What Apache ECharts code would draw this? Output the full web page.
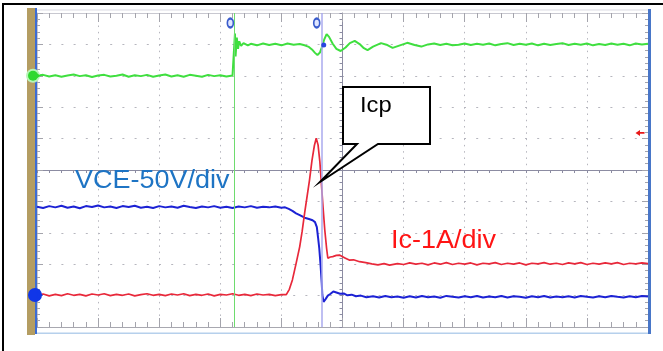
<!DOCTYPE html>
<html><head><meta charset="utf-8">
<script src="https://cdn.jsdelivr.net/npm/echarts@6/dist/echarts.min.js"></script>
<style>html,body{margin:0;padding:0;background:#fff}#c{width:663px;height:351px}</style>
</head><body><div id="c"></div>
<script>
// Time and amplitude are in scope divisions (screen -5..5 both ways)
const xTicks = [-5,-4,-3,-2,-1,0,1,2,3,4,5];
const yTicks = [-5,-4,-3,-2,-1,0,1,2,3,4,5];

// Green trace (gate signal)
const greenTrace = [
[-5.0,3.00],[-4.9,3.03],[-4.8,2.98],[-4.7,3.02],[-4.6,2.97],[-4.5,3.01],[-4.4,3.04],[-4.3,2.99],[-4.2,3.02],[-4.1,2.96],[-4.0,3.01],[-3.9,3.03],[-3.8,2.98],[-3.7,3.00],[-3.6,3.04],[-3.5,2.97],[-3.4,3.02],[-3.3,2.99],[-3.2,3.03],[-3.1,2.97],[-3.0,3.01],[-2.9,3.04],[-2.8,2.98],[-2.7,3.02],[-2.6,2.97],[-2.5,3.03],[-2.4,3.00],[-2.3,2.97],[-2.2,3.03],[-2.1,2.99],[-2.0,3.02],[-1.9,2.98],[-1.8,3.01],[-1.77,3.00],
[-1.76,4.35],[-1.75,3.62],[-1.73,4.22],[-1.71,3.86],[-1.69,4.10],[-1.66,3.95],[-1.62,4.04],[-1.55,3.97],[-1.5,4.02],[-1.4,3.97],[-1.3,4.03],[-1.2,3.98],[-1.1,4.02],[-1.0,3.97],[-0.9,4.03],[-0.8,3.99],[-0.7,4.01],[-0.62,3.97],[-0.55,3.92],[-0.5,3.84],[-0.45,3.73],[-0.41,3.66],[-0.37,3.74],[-0.34,3.90],[-0.30,4.15],[-0.26,4.33],[-0.22,4.24],[-0.16,4.02],[-0.10,3.86],[-0.03,3.79],[0.05,3.90],[0.12,4.04],[0.20,4.11],[0.28,4.01],[0.35,3.88],[0.41,3.82],[0.50,3.93],[0.63,4.04],[0.72,3.99],[0.82,3.89],[0.94,3.97],[1.06,4.05],[1.18,3.98],[1.29,3.93],[1.4,4.00],[1.5,4.03],[1.6,3.98],[1.7,4.02],[1.8,3.97],[1.9,3.99],[2.0,4.03],[2.1,3.98],[2.2,4.02],[2.3,3.99],[2.4,4.03],[2.5,3.97],[2.6,4.01],[2.7,4.04],[2.8,3.98],[2.9,4.02],[3.0,3.99],[3.1,4.03],[3.2,3.97],[3.3,4.02],[3.4,3.98],[3.5,4.01],[3.6,4.04],[3.7,3.98],[3.8,4.02],[3.9,3.99],[4.0,4.03],[4.1,3.97],[4.2,4.01],[4.3,3.98],[4.4,4.03],[4.5,3.99],[4.6,4.02],[4.7,3.97],[4.8,4.03],[4.9,4.00],[5.0,4.02]
];

// Blue trace (VCE, 50 V/div)
const blueTrace = [
[-5.0,-1.17],[-4.9,-1.21],[-4.8,-1.15],[-4.7,-1.19],[-4.6,-1.14],[-4.5,-1.20],[-4.4,-1.16],[-4.3,-1.22],[-4.2,-1.15],[-4.1,-1.18],[-4.0,-1.13],[-3.9,-1.19],[-3.8,-1.16],[-3.7,-1.21],[-3.6,-1.15],[-3.5,-1.18],[-3.4,-1.14],[-3.3,-1.20],[-3.2,-1.17],[-3.1,-1.21],[-3.0,-1.15],[-2.9,-1.19],[-2.8,-1.16],[-2.7,-1.20],[-2.6,-1.14],[-2.5,-1.18],[-2.4,-1.21],[-2.3,-1.16],[-2.2,-1.19],[-2.1,-1.15],[-2.0,-1.20],[-1.9,-1.17],[-1.8,-1.21],[-1.7,-1.16],[-1.6,-1.19],[-1.5,-1.15],[-1.4,-1.20],[-1.3,-1.17],[-1.2,-1.19],[-1.1,-1.16],[-1.0,-1.20],[-0.94,-1.19],[-0.88,-1.24],[-0.82,-1.30],[-0.76,-1.38],[-0.70,-1.44],[-0.62,-1.52],[-0.55,-1.56],[-0.49,-1.60],[-0.45,-1.66],[-0.42,-1.82],[-0.40,-2.15],[-0.38,-2.50],[-0.36,-3.00],[-0.34,-3.60],[-0.33,-3.98],[-0.31,-4.20],[-0.28,-4.12],[-0.24,-4.00],[-0.20,-3.95],[-0.15,-3.87],[-0.10,-3.90],[-0.04,-3.94],[0.02,-3.93],[0.08,-3.99],[0.15,-3.97],[0.22,-4.02],[0.30,-4.00],[0.39,-4.05],[0.5,-4.02],[0.6,-4.06],[0.7,-4.01],[0.8,-4.05],[0.9,-4.03],[1.0,-4.07],[1.1,-4.02],[1.2,-4.06],[1.3,-4.01],[1.4,-4.05],[1.5,-4.03],[1.6,-4.07],[1.7,-4.01],[1.8,-4.04],[1.9,-4.06],[2.0,-4.02],[2.1,-4.05],[2.2,-4.01],[2.3,-4.06],[2.4,-4.03],[2.5,-4.05],[2.6,-4.01],[2.7,-4.06],[2.8,-4.02],[2.9,-4.04],[3.0,-4.07],[3.1,-4.02],[3.2,-4.05],[3.3,-4.01],[3.4,-4.06],[3.5,-4.03],[3.6,-4.05],[3.7,-4.02],[3.8,-4.06],[3.9,-4.01],[4.0,-4.04],[4.1,-4.06],[4.2,-4.02],[4.3,-4.05],[4.4,-4.01],[4.5,-4.04],[4.6,-4.06],[4.7,-4.02],[4.8,-4.05],[4.9,-4.01],[5.0,-4.03]
];

// Red trace (Ic, 1 A/div)
const redTrace = [
[-5.0,-3.98],[-4.9,-3.95],[-4.8,-4.01],[-4.7,-3.96],[-4.6,-4.00],[-4.5,-3.94],[-4.4,-3.99],[-4.3,-3.96],[-4.2,-4.01],[-4.1,-3.95],[-4.0,-3.98],[-3.9,-3.94],[-3.8,-4.00],[-3.7,-3.96],[-3.6,-3.99],[-3.5,-3.95],[-3.4,-4.01],[-3.3,-3.97],[-3.2,-3.94],[-3.1,-3.99],[-3.0,-3.96],[-2.9,-4.00],[-2.8,-3.95],[-2.7,-3.98],[-2.6,-3.94],[-2.5,-4.00],[-2.4,-3.96],[-2.3,-3.99],[-2.2,-3.95],[-2.1,-4.01],[-2.0,-3.96],[-1.9,-3.98],[-1.8,-3.94],[-1.7,-3.99],[-1.6,-3.96],[-1.5,-4.00],[-1.4,-3.95],[-1.3,-3.98],[-1.2,-3.96],[-1.1,-4.00],[-1.0,-3.97],[-0.92,-3.97],[-0.87,-3.80],[-0.82,-3.50],[-0.76,-2.98],[-0.70,-2.44],[-0.66,-1.95],[-0.62,-1.37],[-0.58,-0.85],[-0.54,-0.32],[-0.50,0.30],[-0.46,0.78],[-0.43,1.01],[-0.40,0.80],[-0.37,0.25],[-0.35,-0.32],[-0.32,-1.15],[-0.29,-1.91],[-0.26,-2.50],[-0.24,-2.81],[-0.20,-2.77],[-0.16,-2.76],[-0.10,-2.72],[-0.05,-2.71],[-0.02,-2.74],[0.04,-2.80],[0.11,-2.87],[0.18,-2.86],[0.28,-2.92],[0.38,-2.95],[0.48,-2.99],[0.58,-3.02],[0.68,-2.98],[0.77,-3.03],[0.9,-2.98],[1.0,-3.01],[1.1,-2.96],[1.2,-3.00],[1.3,-2.97],[1.4,-3.02],[1.5,-2.96],[1.6,-3.00],[1.7,-2.95],[1.8,-3.01],[1.9,-2.97],[2.0,-3.00],[2.1,-2.96],[2.2,-3.02],[2.3,-2.97],[2.4,-2.99],[2.5,-2.95],[2.6,-3.01],[2.7,-2.97],[2.8,-3.00],[2.9,-2.96],[3.0,-3.02],[3.1,-2.97],[3.2,-2.99],[3.3,-2.95],[3.4,-3.00],[3.5,-2.97],[3.6,-3.01],[3.7,-2.96],[3.8,-2.99],[3.9,-2.95],[4.0,-3.01],[4.1,-2.97],[4.2,-3.00],[4.3,-2.96],[4.4,-2.99],[4.5,-2.95],[4.6,-3.01],[4.7,-2.97],[4.8,-2.99],[4.9,-2.96],[5.0,-2.98]
];

const cursorX = [-1.77, -0.34];        // vertical cursors (green, blue)
const greenLevel = 3.0;                  // channel ground markers
const blueLevel = -3.98;
const triggerLevel = 1.18;
const cursorDotY = 3.98;
const labelTexts = ['VCE-50V/div', 'Ic-1A/div', 'Icp'];

const FONT = '"Liberation Sans", Arial, sans-serif';
const GRID = {left:37, right:15, top:13, bottom:24};

function edgeAxis(pos, isX, lineColor) {
  return {gridIndex:1, type:'value', min:-5, max:5, interval:1, position:pos,
    axisLine:{show:true, onZero:false, lineStyle:{color:lineColor, width:1}},
    axisTick:{show:true, inside:true, length:isX?9:6, lineStyle:{color:'#a4a4ac'}},
    minorTick:{show:true, splitNumber:5, length:isX?5:3, lineStyle:{color:'#a4a4ac'}},
    axisLabel:{show:false}, splitLine:{show:false}};
}

const chart = echarts.init(document.getElementById('c'), null, {renderer:'canvas'});
const option = {
  animation:false,
  backgroundColor:'#ffffff',
  grid:[Object.assign({}, GRID), Object.assign({}, GRID)],
  xAxis:[
    {gridIndex:0, type:'value', min:xTicks[0], max:xTicks[xTicks.length-1], interval:1,
     axisLine:{show:true, onZero:true, lineStyle:{color:'#8c8ca2', width:1}},
     axisTick:{show:true, length:3, lineStyle:{color:'#8c8ca2'}},
     minorTick:{show:true, splitNumber:5, length:3, lineStyle:{color:'#8c8ca2'}},
     axisLabel:{show:false},
     splitLine:{show:true, lineStyle:{color:'#b6b6be', width:1, type:[1.5,4.78]}}},
    edgeAxis('top', true, '#c8c8d0'),
    edgeAxis('bottom', true, '#a8a8b0')
  ],
  yAxis:[
    {gridIndex:0, type:'value', min:yTicks[0], max:yTicks[yTicks.length-1], interval:1,
     axisLine:{show:true, onZero:true, lineStyle:{color:'#8c8ca2', width:1}},
     axisTick:{show:true, length:3, lineStyle:{color:'#8c8ca2'}},
     minorTick:{show:true, splitNumber:5, length:3, lineStyle:{color:'#8c8ca2'}},
     axisLabel:{show:false},
     splitLine:{show:true, lineStyle:{color:'#b6b6be', width:1, type:[2,10.2]}}},
    edgeAxis('left', false, '#c8c8d0'),
    edgeAxis('right', false, '#c8c8d0')
  ],
  series:[
    {type:'line', name:'gate', data:greenTrace, showSymbol:false, symbol:'none',
     lineStyle:{color:'#3fdf3f', width:2}, z:3,
     markLine:{silent:true, symbol:['none','none'], label:{show:false}, animation:false,
       data:[{xAxis:cursorX[0], lineStyle:{color:'#6edc6e', width:1, type:'solid'}},
             {xAxis:cursorX[1], lineStyle:{color:'#aaaaee', width:1.5, type:'solid'}}]},
     markPoint:{silent:true, label:{show:false}, animation:false,
       data:[
         {coord:[xTicks[0], greenLevel], symbol:'circle', symbolSize:14, symbolOffset:[-4,0], itemStyle:{color:'#b8f5b8'}},
         {coord:[xTicks[0], greenLevel], symbol:'circle', symbolSize:10, symbolOffset:[-4,0], itemStyle:{color:'#2fd82f'}},
         {coord:[xTicks[0], greenLevel], symbol:'arrow', symbolSize:[6,7], symbolRotate:-90, symbolOffset:[4,0], itemStyle:{color:'#2fd82f'}},
         {coord:[cursorX[0], yTicks[yTicks.length-1]], symbol:'circle', symbolSize:[6,9], symbolOffset:[-4,10], itemStyle:{color:'#dfe6ff', borderColor:'#3a5ccc', borderWidth:2}},
         {coord:[cursorX[1], yTicks[yTicks.length-1]], symbol:'circle', symbolSize:[6,9], symbolOffset:[-5,10], itemStyle:{color:'#dfe6ff', borderColor:'#3a5ccc', borderWidth:2}},
         {coord:[cursorX[1], cursorDotY], symbol:'circle', symbolSize:5, symbolOffset:[2,0], itemStyle:{color:'#2a44e0'}}
       ]}},
    {type:'line', name:'VCE', data:blueTrace, showSymbol:false, symbol:'none',
     lineStyle:{color:'#1c22d4', width:2}, z:3,
     markPoint:{silent:true, label:{show:false}, animation:false,
       data:[
         {coord:[xTicks[0], blueLevel], symbol:'circle', symbolSize:14, symbolOffset:[-2,0], itemStyle:{color:'#1036e8'}},
         {coord:[xTicks[0], blueLevel], symbol:'arrow', symbolSize:[6,7], symbolRotate:-90, symbolOffset:[6,0], itemStyle:{color:'#1036e8'}}
       ]}},
    {type:'line', name:'Ic', data:redTrace, showSymbol:false, symbol:'none',
     lineStyle:{color:'#e8283a', width:1.7}, z:4,
     markPoint:{silent:true, label:{show:false}, animation:false,
       data:[
         {coord:[xTicks[xTicks.length-1], triggerLevel], symbol:'path://M0,5 L5,0 L5,3.5 L10,3.5 L10,6.5 L5,6.5 L5,10 Z', symbolSize:[9,6], symbolOffset:[-8,0], itemStyle:{color:'#e81818'}}
       ]}}
  ],
  graphic:[
    {type:'rect', z:1, shape:{x:2, y:3, width:661, height:2}, style:{fill:'#000'}},
    {type:'rect', z:1, shape:{x:2, y:3, width:2, height:348}, style:{fill:'#000'}},
    {type:'rect', z:1, shape:{x:27, y:8, width:8, height:327}, style:{fill:'#b49d62'}},
    {type:'rect', z:1, shape:{x:35, y:8, width:2, height:326}, style:{fill:'#3c6cd4'}},
    {type:'rect', z:1, shape:{x:648, y:9, width:3, height:325}, style:{fill:'#4876c8'}},
    {type:'rect', z:1, shape:{x:37, y:332.5, width:611, height:1.5}, style:{fill:'#b6d0ec'}},
    {type:'rect', z:1, shape:{x:37, y:9.5, width:611, height:1}, style:{fill:'#dcdce4'}},
    {type:'polygon', z:100, shape:{points:[[343,87],[430,87],[430,144],[378,144],[320,182],[357,144],[343,144]]},
     style:{fill:'#ffffff', stroke:'#000000', lineWidth:2}},
    {type:'text', z:101, x:360, y:106, scaleX:1.08, style:{text:labelTexts[2], font:'22px '+FONT, fill:'#000', textAlign:'left', textVerticalAlign:'middle', align:'left', verticalAlign:'middle'}},
    {type:'text', z:101, x:75, y:181, scaleX:1.08, style:{text:labelTexts[0], font:'25px '+FONT, fill:'#1e74c4', textAlign:'left', textVerticalAlign:'middle', align:'left', verticalAlign:'middle'}},
    {type:'text', z:101, x:391, y:241.5, scaleX:1.08, style:{text:labelTexts[1], font:'25px '+FONT, fill:'#ff1414', textAlign:'left', textVerticalAlign:'middle', align:'left', verticalAlign:'middle'}}
  ]
};
chart.setOption(option);
</script>
</body></html>
